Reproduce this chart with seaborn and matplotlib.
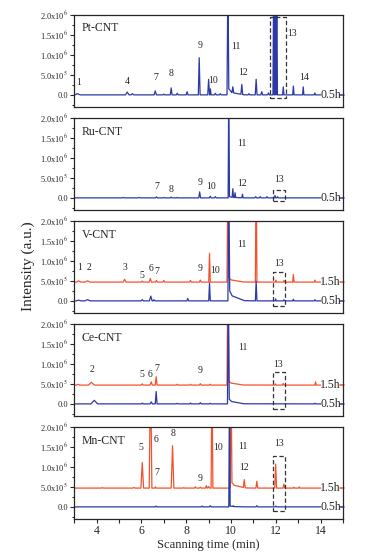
import seaborn as sns
import matplotlib.pyplot as plt
import numpy as np

# Peak tables (time in min, height in 1e5 a.u., half-width in min)
# a height of 30 means the peak runs off the top of the panel
pt05_t = [3.15, 5.37, 5.6, 6.62, 7.0, 7.33, 7.6, 8.04, 8.58, 9.0, 9.08, 9.3, 9.52, 9.86, 10.08,
          10.48, 10.8, 11.12, 11.37, 11.67, 11.9, 11.97, 12.04, 12.33, 12.78, 13.22, 13.74]
pt05_h = [0.3, 0.7, 0.3, 1.0, 0.2, 1.75, 0.4, 0.8, 9.3, 3.9, 1.5, 0.4, 0.3, 30, 1.5,
          2.5, 0.3, 3.9, 0.8, 0.5, 30, 30, 30, 2.0, 2.2, 2.0, 0.5]
pt05_w = [0.12, 0.08, 0.06, 0.05, 0.04, 0.04, 0.04, 0.04, 0.04, 0.04, 0.03, 0.04, 0.04, 0.04, 0.04,
          0.04, 0.04, 0.04, 0.04, 0.04, 0.03, 0.03, 0.03, 0.03, 0.03, 0.03, 0.03]
pt05_tail = 1.6

ru05_t = [5.2, 5.9, 6.67, 7.0, 7.33, 7.6, 8.6, 9.07, 9.3, 9.9, 10.08, 10.18, 10.51, 11.1, 11.3,
          11.6, 11.96, 12.07]
ru05_h = [0.1, 0.1, 0.25, 0.1, 0.2, 0.1, 1.5, 0.4, 0.3, 30, 2.2, 1.2, 0.9, 0.3, 0.3,
          0.3, 0.6, 0.3]
ru05_w = [0.05, 0.05, 0.04, 0.04, 0.04, 0.04, 0.04, 0.04, 0.04, 0.03, 0.03, 0.03, 0.03, 0.04, 0.04,
          0.04, 0.03, 0.03]
ru05_tail = 0.3

v05_t = [3.2, 3.6, 6.04, 6.42, 6.56, 8.07, 9.04, 9.9, 11.12, 11.99, 12.36, 12.78, 13.74]
v05_h = [0.2, 0.3, 0.3, 1.2, 0.3, 0.6, 4.5, 30, 4.9, 0.5, 0.3, 0.4, 0.3]
v05_w = [0.1, 0.12, 0.05, 0.06, 0.04, 0.04, 0.035, 0.04, 0.035, 0.03, 0.03, 0.03, 0.03]
v05_tail = 2.6

v15_t = [3.2, 3.6, 5.25, 6.04, 6.4, 6.67, 7.0, 8.19, 8.63, 9.04, 9.86, 11.12, 12.0, 12.36, 12.78, 13.74]
v15_h = [0.3, 0.3, 0.7, 0.25, 0.9, 0.4, 0.4, 0.4, 0.5, 7.2, 30, 30, 0.5, 0.4, 1.9, 0.5]
v15_w = [0.1, 0.12, 0.06, 0.04, 0.05, 0.04, 0.04, 0.04, 0.04, 0.035, 0.04, 0.035, 0.03, 0.03, 0.03, 0.03]
v15_tail = 1.1

ce05_t = [3.9, 6.04, 6.44, 6.66, 7.6, 8.19, 8.63, 9.07, 9.88, 13.74]
ce05_h = [0.9, 0.2, 0.5, 3.1, 0.15, 0.2, 0.3, 0.15, 30, 0.15]
ce05_w = [0.15, 0.04, 0.05, 0.04, 0.04, 0.04, 0.04, 0.04, 0.04, 0.03]
ce05_tail = 1.2

ce15_t = [3.18, 3.77, 6.04, 6.44, 6.66, 7.6, 8.19, 8.63, 9.07, 9.86, 11.98, 12.33, 13.77]
ce15_h = [0.2, 0.7, 0.3, 0.8, 2.1, 0.2, 0.2, 0.35, 0.2, 30, 0.3, 0.4, 0.8]
ce15_w = [0.08, 0.13, 0.04, 0.05, 0.04, 0.04, 0.04, 0.04, 0.04, 0.04, 0.03, 0.03, 0.03]
ce15_tail = 1.0

mn05_t = [6.66, 8.7, 9.07, 9.93, 10.1, 11.15, 12.0]
mn05_h = [0.2, 0.2, 0.3, 30, 0.2, 0.3, 0.2]
mn05_w = [0.04, 0.04, 0.04, 0.03, 0.04, 0.04, 0.04]
mn05_tail = 0.2

mn15_t = [4.26, 5.67, 6.04, 6.41, 6.63, 7.39, 7.89, 8.41, 8.63, 8.9, 9.0, 9.15, 10.0, 10.59,
          11.15, 11.99, 12.36, 12.8, 13.04]
mn15_h = [0.1, 0.15, 6.4, 30, 0.3, 10.6, 0.1, 0.3, 0.2, 0.6, 0.4, 30, 30, 2.0,
          1.7, 6.0, 1.0, 0.2, 0.3]
mn15_w = [0.05, 0.05, 0.06, 0.06, 0.03, 0.06, 0.04, 0.04, 0.04, 0.04, 0.04, 0.04, 0.04, 0.04,
          0.04, 0.04, 0.04, 0.03, 0.03]
mn15_tail = 1.4

# peak number labels: (time, height in 1e5, text)
pt_lab_t = [3.22, 5.37, 6.63, 7.33, 8.63, 9.22, 10.21, 10.53, 12.73, 13.27]
pt_lab_y = [3.0, 3.25, 4.25, 5.25, 12.25, 3.6, 12.0, 5.5, 15.25, 4.25]
pt_lab_s = ['1', '4', '7', '8', '9', '10', '11', '12', '13', '14']
ru_lab_t = [6.7, 7.34, 8.63, 9.12, 10.48, 10.51, 12.16]
ru_lab_y = [2.9, 2.2, 3.9, 2.9, 13.6, 3.5, 4.7]
ru_lab_s = ['7', '8', '9', '10', '11', '12', '13']
v_lab_t = [3.25, 3.67, 5.27, 6.04, 6.41, 6.7, 8.63, 9.27, 10.5, 12.16]
v_lab_y = [8.35, 8.35, 8.3, 6.4, 8.1, 7.3, 8.1, 7.7, 14.0, 9.4]
v_lab_s = ['1', '2', '3', '5', '6', '7', '9', '10', '11', '13']
ce_lab_t = [3.81, 6.04, 6.38, 6.67, 8.64, 10.51, 12.11]
ce_lab_y = [8.7, 7.25, 7.4, 8.9, 8.25, 14.0, 9.9]
ce_lab_s = ['2', '5', '6', '7', '9', '11', '13']
mn_lab_t = [6.0, 6.67, 6.67, 7.4, 8.63, 9.4, 10.51, 10.59, 12.16]
mn_lab_y = [14.9, 16.75, 8.5, 18.4, 7.0, 14.75, 15.2, 9.9, 15.75]
mn_lab_s = ['5', '6', '7', '8', '9', '10', '11', '12', '13']

# dashed boxes around peak 13: x0, x1, y0, y1 (1e5)
box_pt = [11.72, 12.45, -0.8, 19.6]
box_ru = [11.86, 12.42, -0.7, 2.0]
box_v = [11.89, 12.42, -1.2, 7.3]
box_ce = [11.86, 12.42, -1.3, 8.0]
box_mn = [11.86, 12.42, -1.1, 12.8]

names = ['Pt-CNT', 'Ru-CNT', 'V-CNT', 'Ce-CNT', 'Mn-CNT']
offset_15h = 4.7  # vertical shift of the 1.5h trace, 1e5

BLUE = '#2b3aa6'
RED = '#f2522c'


def trace(t, h, w, tail, peak11):
    # sum of triangular peaks, evaluated at the vertices only (exact piecewise-linear shape)
    t = np.array(t); h = np.array(h); w = np.array(w)
    tl = [peak11, peak11]
    th = [tail * 0.55, tail * 0.45]
    tw = [0.15, 0.7]
    xs = {3.0, 14.0}
    for ti, wi in zip(t, w):
        xs.update([ti - wi, ti, ti + wi])
    for ti, wi in zip(tl, tw):
        xs.update([ti + 0.03, ti + wi])
    xs = np.array(sorted(x for x in xs if 3.0 <= x <= 14.0))
    y = np.zeros_like(xs)
    for ti, hi, wi in zip(t, h, w):
        y += hi * np.clip(1 - np.abs(xs - ti) / wi, 0, None)
    for ti, hi, wi in zip(tl, th, tw):
        r = np.where(xs >= ti + 0.03, np.clip(1 - (xs - ti - 0.03) / wi, 0, None), 0)
        y += hi * r
    return xs, y


panels = [
    ([(pt05_t, pt05_h, pt05_w, pt05_tail, 9.86, BLUE, 0, '0.5h')], pt_lab_t, pt_lab_y, pt_lab_s, box_pt),
    ([(ru05_t, ru05_h, ru05_w, ru05_tail, 9.9, BLUE, 0, '0.5h')], ru_lab_t, ru_lab_y, ru_lab_s, box_ru),
    ([(v15_t, v15_h, v15_w, v15_tail, 9.86, RED, offset_15h, '1.5h'),
      (v05_t, v05_h, v05_w, v05_tail, 9.9, BLUE, 0, '0.5h')], v_lab_t, v_lab_y, v_lab_s, box_v),
    ([(ce15_t, ce15_h, ce15_w, ce15_tail, 9.86, RED, offset_15h, '1.5h'),
      (ce05_t, ce05_h, ce05_w, ce05_tail, 9.88, BLUE, 0, '0.5h')], ce_lab_t, ce_lab_y, ce_lab_s, box_ce),
    ([(mn15_t, mn15_h, mn15_w, mn15_tail, 10.0, RED, offset_15h, '1.5h'),
      (mn05_t, mn05_h, mn05_w, mn05_tail, 9.93, BLUE, 0, '0.5h')], mn_lab_t, mn_lab_y, mn_lab_s, box_mn),
]

sns.set_theme(style='ticks')
plt.rcParams['font.family'] = ['Liberation Serif', 'DejaVu Serif']
plt.rcParams['mathtext.fontset'] = 'stix'

fig, axes = plt.subplots(5, 1, figsize=(3.8, 5.52), dpi=100, sharex=True,
                         gridspec_kw=dict(left=0.195, right=0.903, top=0.973, bottom=0.06, hspace=0.12))

for ax, name, (traces, lt, ly, ls, box) in zip(axes, names, panels):
    for t, h, w, tail, p11, col, off, lab in traces:
        x, y = trace(t, h, w, tail, p11)
        sns.lineplot(x=x, y=(y + off) * 1e5, ax=ax, color=col, linewidth=0.9,
                     estimator=None, sort=False)
        ax.text(13.98, off * 1e5, lab, fontsize=8.5, ha='left', va='center')
        ax.plot([14.88, 15.06], [off * 1e5, off * 1e5], color=col, lw=1.1, clip_on=False)
    for tx, ty, s in zip(lt, ly, ls):
        ax.text(tx, ty * 1e5, s, fontsize=7, ha='center', va='center')
    x0, x1, y0, y1 = box
    ax.plot([x0, x1, x1, x0, x0], [y0 * 1e5, y0 * 1e5, y1 * 1e5, y1 * 1e5, y0 * 1e5],
            color='#333333', lw=0.9, ls=(0, (3.5, 2)))
    ax.text(3.35, 1.66e6, name, fontsize=8.5, ha='left', va='center')

    ax.set_xlim(3, 15)
    ax.set_ylim(-3e5, 2.0e6)
    ax.set_yticks([0, 5e5, 1e6, 1.5e6, 2e6])
    ax.set_yticks([2.5e5, 7.5e5, 1.25e6, 1.75e6, -2.5e5], minor=True)
    ax.set_yticklabels(['0.0', r'5.0x10$^5$', r'1.0x10$^6$', r'1.5x10$^6$', r'2.0x10$^6$'], fontsize=6)
    ax.tick_params(axis='y', which='major', length=3, width=0.8, pad=1.5)
    ax.tick_params(axis='y', which='minor', length=1.8, width=0.8)
    ax.set_ylabel('')
    for sp in ax.spines.values():
        sp.set_visible(True)
        sp.set_linewidth(0.9)
    ax.tick_params(axis='x', which='both', bottom=False, labelbottom=False)

ax = axes[-1]
ax.set_xticks([4, 6, 8, 10, 12, 14])
ax.set_xticks([3, 5, 7, 9, 11, 13, 15], minor=True)
ax.tick_params(axis='x', which='both', bottom=True, labelbottom=True, length=3, width=0.8,
               labelsize=8.5, pad=1.5)
ax.set_xlabel('Scanning time (min)', fontsize=9, labelpad=1)

fig.text(0.075, 0.518, 'Intensity (a.u.)', rotation=90, fontsize=11, ha='center', va='center')

plt.savefig('out.png', dpi=100)
